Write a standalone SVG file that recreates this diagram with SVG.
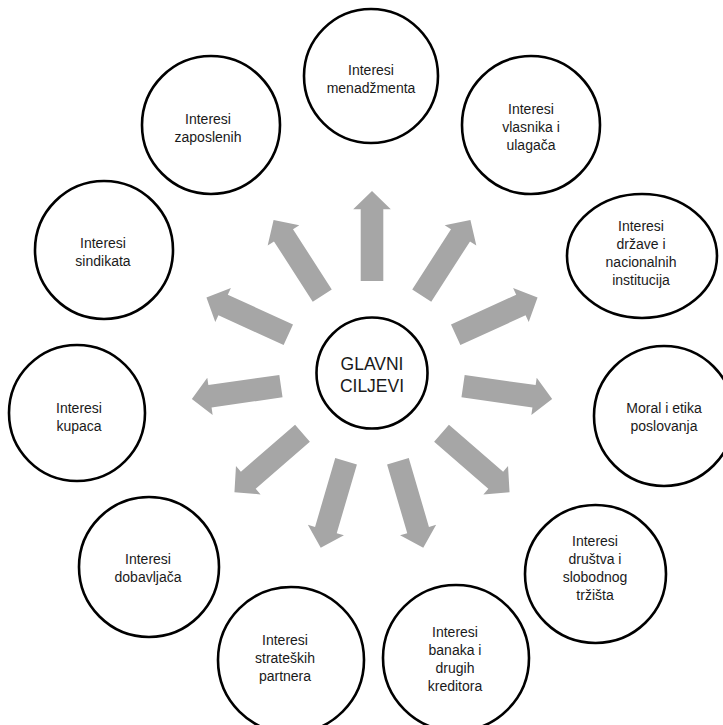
<svg xmlns="http://www.w3.org/2000/svg" xmlns:xlink="http://www.w3.org/1999/xlink" width="723" height="725" viewBox="0 0 723 725">
<style>
.node{fill:#fff;stroke:#000;stroke-width:2.6}
.lbl{font-family:"Liberation Sans",Arial,sans-serif;font-size:14px;fill:#1a1a1a;text-anchor:middle}
.ctr{font-family:"Liberation Sans",Arial,sans-serif;font-size:17.5px;fill:#1a1a1a;text-anchor:middle}
.arrow{fill:#A6A6A6}
</style>
<defs>
<path id="arr" class="arrow" d="M92,-11.3 L163.7,-11.3 L163.7,-18.8 L182,0 L163.7,18.8 L163.7,11.3 L92,11.3 Z"/>
</defs>
<rect width="723" height="725" fill="#fff"/>
<g id="connectors">
<use xlink:href="#arr" href="#arr" transform="translate(372,373) rotate(-90)"/>
<use xlink:href="#arr" href="#arr" transform="translate(372,373) rotate(-57.27)"/>
<use xlink:href="#arr" href="#arr" transform="translate(372,373) rotate(-24.55)"/>
<use xlink:href="#arr" href="#arr" transform="translate(372,373) rotate(8.18)"/>
<use xlink:href="#arr" href="#arr" transform="translate(372,373) rotate(40.91)"/>
<use xlink:href="#arr" href="#arr" transform="translate(372,373) rotate(73.64)"/>
<use xlink:href="#arr" href="#arr" transform="translate(372,373) rotate(106.36)"/>
<use xlink:href="#arr" href="#arr" transform="translate(372,373) rotate(139.09)"/>
<use xlink:href="#arr" href="#arr" transform="translate(372,373) rotate(171.82)"/>
<use xlink:href="#arr" href="#arr" transform="translate(372,373) rotate(204.55)"/>
<use xlink:href="#arr" href="#arr" transform="translate(372,373) rotate(237.27)"/>
</g>
<g id="center">
<circle class="node" cx="372" cy="373" r="55.5"/>
<text class="ctr" x="372" y="369.5">GLAVNI</text>
<text class="ctr" x="372" y="392">CILJEVI</text>
</g>
<g id="menadzmenta">
<circle class="node" cx="371" cy="76" r="67"/>
<text class="lbl" x="371" y="75">Interesi</text>
<text class="lbl" x="371" y="93">menadžmenta</text>
</g>
<g id="vlasnika">
<circle class="node" cx="531" cy="125" r="69"/>
<text class="lbl" x="531" y="114">Interesi</text>
<text class="lbl" x="531" y="132">vlasnika i</text>
<text class="lbl" x="531" y="150">ulagača</text>
</g>
<g id="drzave">
<ellipse class="node" cx="642" cy="256" rx="75" ry="62"/>
<text class="lbl" x="641" y="230.5">Interesi</text>
<text class="lbl" x="641" y="248.5">države i</text>
<text class="lbl" x="641" y="266.5">nacionalnih</text>
<text class="lbl" x="641" y="284.5">institucija</text>
</g>
<g id="moral">
<circle class="node" cx="664" cy="416" r="70"/>
<text class="lbl" x="664" y="413">Moral i etika</text>
<text class="lbl" x="664" y="431">poslovanja</text>
</g>
<g id="drustva">
<ellipse class="node" cx="595.5" cy="574" rx="70.5" ry="69"/>
<text class="lbl" x="595" y="546">Interesi</text>
<text class="lbl" x="595" y="564">društva i</text>
<text class="lbl" x="595" y="582">slobodnog</text>
<text class="lbl" x="595" y="600">tržišta</text>
</g>
<g id="banaka">
<circle class="node" cx="456" cy="658" r="73"/>
<text class="lbl" x="455" y="637">Interesi</text>
<text class="lbl" x="455" y="655">banaka i</text>
<text class="lbl" x="455" y="673">drugih</text>
<text class="lbl" x="455" y="691">kreditora</text>
</g>
<g id="strateskih">
<circle class="node" cx="291" cy="660" r="73"/>
<text class="lbl" x="285" y="645">Interesi</text>
<text class="lbl" x="285" y="663">strateških</text>
<text class="lbl" x="285" y="681">partnera</text>
</g>
<g id="dobavljaca">
<circle class="node" cx="149" cy="567" r="70"/>
<text class="lbl" x="148" y="564">Interesi</text>
<text class="lbl" x="148" y="582">dobavljača</text>
</g>
<g id="kupaca">
<circle class="node" cx="77" cy="413" r="68"/>
<text class="lbl" x="79" y="413">Interesi</text>
<text class="lbl" x="79" y="431">kupaca</text>
</g>
<g id="sindikata">
<circle class="node" cx="104" cy="250" r="69"/>
<text class="lbl" x="103" y="248">Interesi</text>
<text class="lbl" x="103" y="266">sindikata</text>
</g>
<g id="zaposlenih">
<circle class="node" cx="211" cy="125" r="69"/>
<text class="lbl" x="208" y="124">Interesi</text>
<text class="lbl" x="208" y="142">zaposlenih</text>
</g>
</svg>
